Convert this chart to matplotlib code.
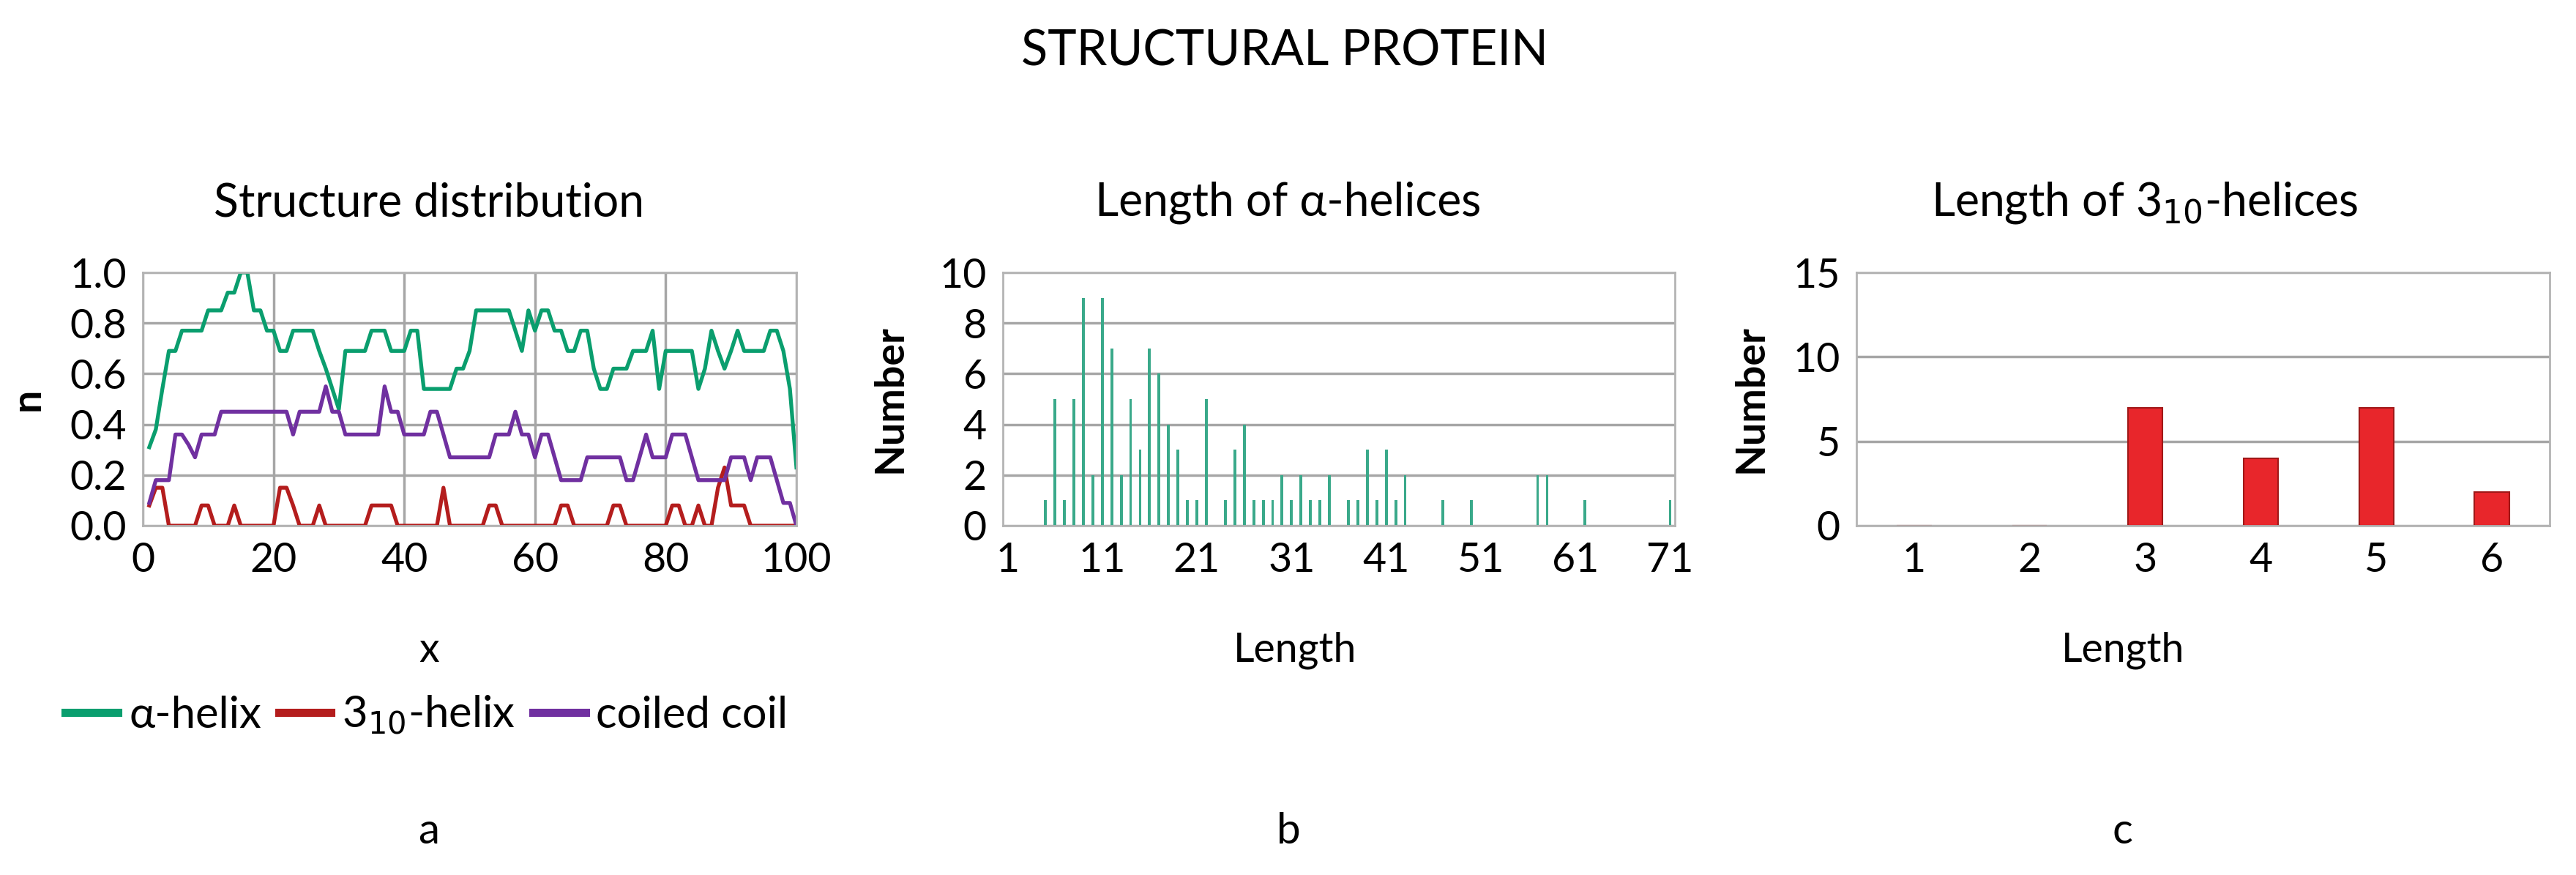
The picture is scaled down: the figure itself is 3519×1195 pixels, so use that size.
import numpy as np
from matplotlib import pyplot as plt
from matplotlib.lines import Line2D

plt.rcParams['font.family'] = ['Lato', 'DejaVu Sans']

# panel a: sliding-window fraction of each structure along the sequence
pos = list(range(1, 101))
alpha_helix = [0.31, 0.38, 0.54, 0.69, 0.69, 0.77, 0.77, 0.77, 0.77, 0.85,
               0.85, 0.85, 0.92, 0.92, 1.00, 1.00, 0.85, 0.85, 0.77, 0.77,
               0.69, 0.69, 0.77, 0.77, 0.77, 0.77, 0.69, 0.62, 0.54, 0.46,
               0.69, 0.69, 0.69, 0.69, 0.77, 0.77, 0.77, 0.69, 0.69, 0.69,
               0.77, 0.77, 0.54, 0.54, 0.54, 0.54, 0.54, 0.62, 0.62, 0.69,
               0.85, 0.85, 0.85, 0.85, 0.85, 0.85, 0.77, 0.69, 0.85, 0.77,
               0.85, 0.85, 0.77, 0.77, 0.69, 0.69, 0.77, 0.77, 0.62, 0.54,
               0.54, 0.62, 0.62, 0.62, 0.69, 0.69, 0.69, 0.77, 0.54, 0.69,
               0.69, 0.69, 0.69, 0.69, 0.54, 0.62, 0.77, 0.69, 0.62, 0.69,
               0.77, 0.69, 0.69, 0.69, 0.69, 0.77, 0.77, 0.69, 0.54, 0.23]
helix_310 = [0.08, 0.15, 0.15, 0.00, 0.00, 0.00, 0.00, 0.00, 0.08, 0.08,
             0.00, 0.00, 0.00, 0.08, 0.00, 0.00, 0.00, 0.00, 0.00, 0.00,
             0.15, 0.15, 0.08, 0.00, 0.00, 0.00, 0.08, 0.00, 0.00, 0.00,
             0.00, 0.00, 0.00, 0.00, 0.08, 0.08, 0.08, 0.08, 0.00, 0.00,
             0.00, 0.00, 0.00, 0.00, 0.00, 0.15, 0.00, 0.00, 0.00, 0.00,
             0.00, 0.00, 0.08, 0.08, 0.00, 0.00, 0.00, 0.00, 0.00, 0.00,
             0.00, 0.00, 0.00, 0.08, 0.08, 0.00, 0.00, 0.00, 0.00, 0.00,
             0.00, 0.08, 0.08, 0.00, 0.00, 0.00, 0.00, 0.00, 0.00, 0.00,
             0.08, 0.08, 0.00, 0.00, 0.08, 0.00, 0.00, 0.15, 0.23, 0.08,
             0.08, 0.08, 0.00, 0.00, 0.00, 0.00, 0.00, 0.00, 0.00, 0.00]
coiled_coil = [0.09, 0.18, 0.18, 0.18, 0.36, 0.36, 0.32, 0.27, 0.36, 0.36,
               0.36, 0.45, 0.45, 0.45, 0.45, 0.45, 0.45, 0.45, 0.45, 0.45,
               0.45, 0.45, 0.36, 0.45, 0.45, 0.45, 0.45, 0.55, 0.45, 0.45,
               0.36, 0.36, 0.36, 0.36, 0.36, 0.36, 0.55, 0.45, 0.45, 0.36,
               0.36, 0.36, 0.36, 0.45, 0.45, 0.36, 0.27, 0.27, 0.27, 0.27,
               0.27, 0.27, 0.27, 0.36, 0.36, 0.36, 0.45, 0.36, 0.36, 0.27,
               0.36, 0.36, 0.27, 0.18, 0.18, 0.18, 0.18, 0.27, 0.27, 0.27,
               0.27, 0.27, 0.27, 0.18, 0.18, 0.27, 0.36, 0.27, 0.27, 0.27,
               0.36, 0.36, 0.36, 0.27, 0.18, 0.18, 0.18, 0.18, 0.18, 0.27,
               0.27, 0.27, 0.18, 0.27, 0.27, 0.27, 0.18, 0.09, 0.09, 0.00]

# panel b: alpha-helix length histogram (lengths not listed are 0)
a_len = [5, 6, 7, 8, 9, 10, 11, 12, 13, 14, 15, 16, 17, 18, 19, 20, 21, 22,
         24, 25, 26, 27, 28, 29, 30, 31, 32, 33, 34, 35, 37, 38, 39, 40, 41,
         42, 43, 47, 50, 57, 58, 62, 71]
a_cnt = [1, 5, 1, 5, 9, 2, 9, 7, 2, 5, 3, 7, 6, 4, 3, 1, 1, 5,
         1, 3, 4, 1, 1, 1, 2, 1, 2, 1, 1, 2, 1, 1, 3, 1, 3,
         1, 2, 1, 1, 2, 2, 1, 1]

# panel c: 3_10-helix length histogram
t_len = [1, 2, 3, 4, 5, 6]
t_cnt = [0, 0, 7, 4, 7, 2]

GREEN = '#0a9e6e'
RED = '#b41d1d'
PURPLE = '#7030a0'
GRID = '#a6a6a6'
FS_TICK = 40
FS_LAB = 40

W, H = 3519, 1195
fig = plt.figure(figsize=(W/100, H/100), dpi=100)

def style(ax):
	for s in ax.spines.values():
		s.set_color('#b4b4b4')
		s.set_linewidth(2)
	ax.tick_params(length=0, labelsize=FS_TICK, pad=16)
	ax.yaxis.grid(True, color=GRID, lw=2.5)
	ax.set_axisbelow(True)

bottom = (H-718)/H
height = 346/H

# a
ax1 = fig.add_axes([195/W, bottom, 893/W, height])
style(ax1)
ax1.xaxis.grid(True, color=GRID, lw=2.5)
ax1.plot(pos, alpha_helix, color=GREEN, lw=3.8)
ax1.plot(pos, helix_310, color=RED, lw=3.8)
ax1.plot(pos, coiled_coil, color=PURPLE, lw=3.8)
ax1.set_xlim(0, 100)
ax1.set_ylim(0, 1)
ax1.set_xticks(range(0, 101, 20))
ax1.set_yticks(np.arange(0, 1.01, 0.2))
ax1.set_yticklabels(['%.1f' % v for v in np.arange(0, 1.01, 0.2)])

# b
ax2 = fig.add_axes([1370/W, bottom, 918/W, height])
style(ax2)
ax2.bar(a_len, a_cnt, width=0.3, color='#3aa98a')
ax2.set_xlim(0.5, 71.5)
ax2.set_ylim(0, 10)
ax2.set_xticks(range(1, 72, 10))
ax2.set_yticks(range(0, 11, 2))

# c
ax3 = fig.add_axes([2536/W, bottom, 947/W, height])
style(ax3)
ax3.bar(t_len, t_cnt, width=0.3, color='#e8262b', edgecolor='#a01818', lw=1.5)
ax3.set_xlim(0.5, 6.5)
ax3.set_ylim(0, 15)
ax3.set_xticks(t_len)
ax3.set_yticks(range(0, 16, 5))

fig.text(0.4987, 1-70/H, 'STRUCTURAL PROTEIN', ha='center', va='center', fontsize=48)
ty = 1-277/H
fig.text(586/W, ty, 'Structure distribution', ha='center', va='center', fontsize=45)
fig.text(1760/W, ty, 'Length of α-helices', ha='center', va='center', fontsize=45)
fig.text(2930/W, ty, 'Length of 3$_{10}$-helices', ha='center', va='center', fontsize=45)

ly = 1-888/H
fig.text(586/W, ly, 'x', ha='center', va='center', fontsize=FS_LAB)
fig.text(1769/W, ly, 'Length', ha='center', va='center', fontsize=FS_LAB)
fig.text(2900/W, ly, 'Length', ha='center', va='center', fontsize=FS_LAB)

cy = bottom + height/2
fig.text(38/W, cy, 'n', ha='center', va='center', rotation=90, fontsize=FS_LAB, fontweight='bold')
fig.text(1215/W, cy, 'Number', ha='center', va='center', rotation=90, fontsize=FS_LAB, fontweight='bold')
fig.text(2392/W, cy, 'Number', ha='center', va='center', rotation=90, fontsize=FS_LAB, fontweight='bold')

py = 1-1135/H
for x, t in [(586, 'a'), (1760, 'b'), (2900, 'c')]:
	fig.text(x/W, py, t, ha='center', va='center', fontsize=42)

handles = [Line2D([], [], color=GREEN, lw=8),
           Line2D([], [], color=RED, lw=8),
           Line2D([], [], color=PURPLE, lw=8)]
fig.legend(handles, ['α-helix', '3$_{10}$-helix', 'coiled coil'], loc='center',
           bbox_to_anchor=(583/W, 1-977/H), ncol=3, frameon=False, fontsize=43,
           handlelength=1.2, handletextpad=0.25, columnspacing=0.4)

fig.savefig('out.png', dpi=100)
